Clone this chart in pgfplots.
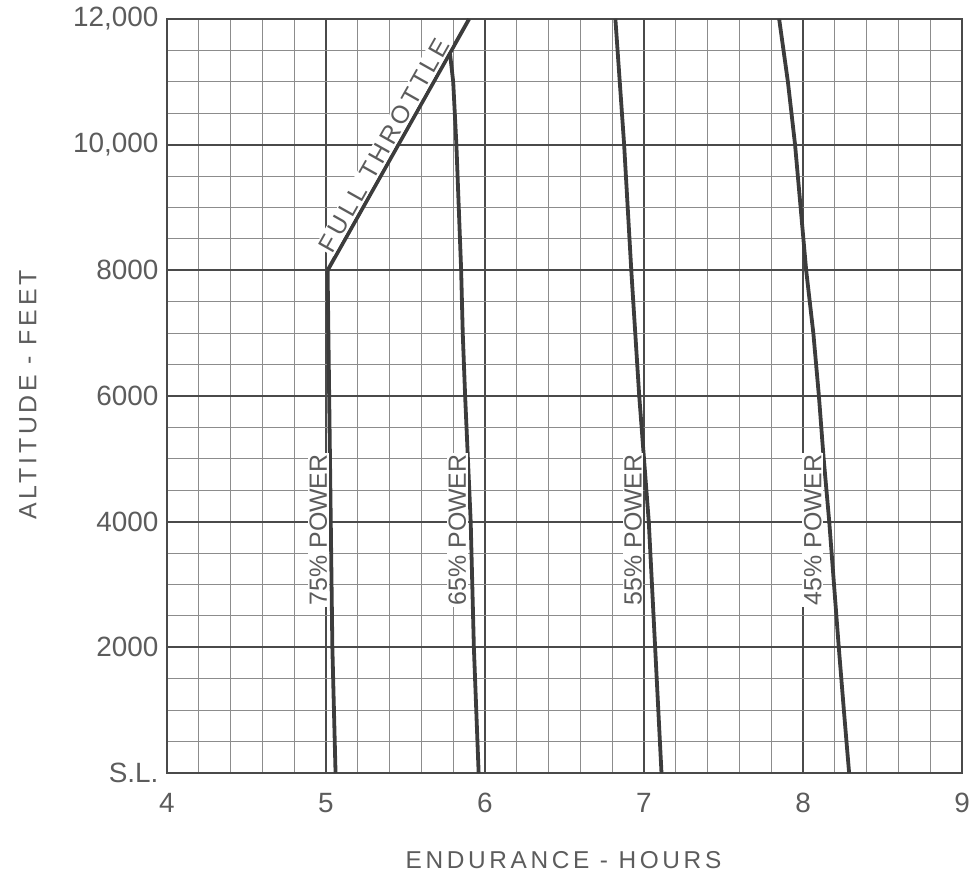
\documentclass[border=0pt]{standalone}
\usepackage{fontspec}
\setmainfont{Liberation Sans}
\usepackage{pgfplots}
\pgfplotsset{compat=1.18}
\definecolor{ink}{HTML}{3C3C3C}
\definecolor{txt}{HTML}{5C5C5C}
\definecolor{majg}{HTML}{4A4A4A}
\definecolor{ming}{HTML}{8C8C8C}
\begin{document}
\begin{tikzpicture}
\path[use as bounding box] (-167bp,-102bp) rectangle (804bp,773bp);
\begin{axis}[
  at={(0,0)}, anchor=south west,
  scale only axis, width=795bp, height=754bp,
  xmin=4, xmax=9, ymin=0, ymax=12000,
  xtick={4,5,6,7,8,9}, ytick={0,2000,4000,6000,8000,10000,12000},
  yticklabels={S.L.,2000,4000,6000,8000,{10,000},{12,000}},
  minor x tick num=4, minor y tick num=3,
  grid=both,
  major grid style={majg, line width=1.9bp},
  minor grid style={ming, line width=1bp},
  axis line style={majg, line width=2bp},
  tick style={draw=none},
  ticklabel style={font=\fontsize{28}{30}\selectfont, text=txt},
  /pgf/number format/assume math mode=true,
  xticklabel style={yshift=-17bp},
  yticklabel style={xshift=-5bp},
  scaled y ticks=false,
  clip=false,
]
% 75% power
\addplot[ink, line width=3.8bp, line join=round] coordinates {
  (5.06,0) (5.04,2000) (5.03,4000) (5.02,6000) (5.01,8000)
};
% full throttle
\addplot[ink, line width=3.8bp, line join=round] coordinates {
  (5.01,8000) (5.90,12000)
};
% 65% power
\addplot[ink, line width=3.8bp, line join=round] coordinates {
  (5.78,11450) (5.80,11000) (5.82,10000) (5.835,9000) (5.85,8000)
  (5.86,7000) (5.875,6000) (5.91,4000) (5.93,2000) (5.96,0)
};
% 55% power
\addplot[ink, line width=3.8bp, line join=round] coordinates {
  (6.82,12000) (6.875,10000) (6.92,8000) (6.97,6000) (7.00,5000) (7.03,4000) (7.07,2000) (7.11,0)
};
% 45% power
\addplot[ink, line width=3.8bp, line join=round] coordinates {
  (7.85,12000) (7.905,11000) (7.95,10000) (8.02,8000) (8.065,7000) (8.10,6000)
  (8.13,5000) (8.165,4000) (8.195,3000) (8.225,2000) (8.257,1000) (8.29,0)
};
% labels on curves (white boxes)
\node[rotate=90, anchor=south, fill=white, inner sep=1.5bp, font=\fontsize{25}{27}\selectfont, text=txt] at ([xshift=-2bp]axis cs:5.03,3870) {75\% POWER};
\node[rotate=90, anchor=south, fill=white, inner sep=1.5bp, font=\fontsize{25}{27}\selectfont, text=txt] at ([xshift=-2bp]axis cs:5.905,3870) {65\% POWER};
\node[rotate=90, anchor=south, fill=white, inner sep=1.5bp, font=\fontsize{25}{27}\selectfont, text=txt] at ([xshift=-2bp]axis cs:7.01,3870) {55\% POWER};
\node[rotate=90, anchor=south, fill=white, inner sep=1.5bp, font=\fontsize{25}{27}\selectfont, text=txt] at ([xshift=-2bp]axis cs:8.14,3870) {45\% POWER};
\node[rotate=60.6, anchor=south, fill=white, inner sep=1.5bp, font=\fontsize{25}{27}\selectfont\addfontfeature{LetterSpace=15}, text=txt] at ([xshift=-2bp]axis cs:5.435,9910) {FULL THROTTLE};
\end{axis}
\node[anchor=center, text=txt, font=\fontsize{24.5}{26}\selectfont\addfontfeature{LetterSpace=15}] at (396.5bp,-87bp) {ENDURANCE - HOURS};
\node[anchor=center, rotate=90, text=txt, font=\fontsize{25}{27}\selectfont\addfontfeature{LetterSpace=15}] at (-139bp,378bp) {ALTITUDE - FEET};
\end{tikzpicture}
\end{document}
